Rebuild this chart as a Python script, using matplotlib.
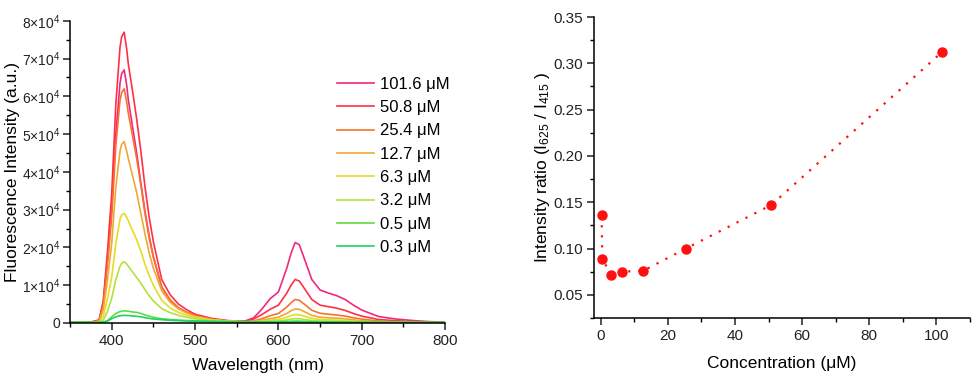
import numpy as np
import matplotlib
matplotlib.use('Agg')
import matplotlib.pyplot as plt
from matplotlib.ticker import MultipleLocator, FuncFormatter

plt.rcParams['font.family'] = ['Liberation Sans', 'DejaVu Sans']
plt.rcParams['mathtext.fontset'] = 'custom'
plt.rcParams['mathtext.rm'] = 'Liberation Sans'
plt.rcParams['mathtext.it'] = 'Liberation Sans:italic'
plt.rcParams['axes.linewidth'] = 1.1

# ---- data: emission spectra (values in units of 1e3 a.u.) ----
wavelength = [350, 375, 385, 390, 395, 400, 405, 410, 412, 415, 418, 420, 425, 430, 435, 440, 445,
              450, 460, 470, 480, 490, 500, 520, 540, 560, 570, 580, 590, 600, 610, 615,
              620, 625, 630, 640, 650, 660, 670, 680, 690, 700, 720, 740, 760, 780, 800]

i_101_6 = [0.1, 0.2, 0.7, 5.5, 17, 30, 50, 63.5, 66, 67, 63, 59, 52, 45, 37, 29.5, 23,
           17.5, 9.5, 6, 4, 2.8, 2, 1.0, 0.5, 0.5, 1.3, 3.6, 6.4, 8.2, 14.5, 18.3,
           21.3, 20.7, 17.7, 11.5, 8.7, 7.9, 7.2, 6.2, 4.7, 3.4, 1.7, 1.05, 0.65, 0.35, 0.2]
i_50_8 = [0.1, 0.2, 0.8, 6, 19, 34, 58, 73, 75.8, 77, 72.5, 68.5, 61.5, 54, 45.5, 36, 28,
          21.5, 11.5, 7.5, 5, 3.5, 2.3, 1.2, 0.6, 0.4, 1.0, 2.2, 3.6, 4.7, 7.9, 9.9,
          11.5, 11.1, 9.5, 6.2, 4.7, 4.3, 3.9, 3.3, 2.5, 1.8, 0.9, 0.6, 0.35, 0.2, 0.1]
i_25_4 = [0.1, 0.2, 0.6, 5, 15.5, 28, 47, 59, 61, 62, 58.5, 55.5, 49.5, 43.5, 36.5, 29, 22.5,
          17.5, 9.5, 6.2, 4, 2.8, 1.9, 0.9, 0.5, 0.3, 0.5, 1.1, 1.9, 2.5, 4.2, 5.3,
          6.2, 6.0, 5.15, 3.35, 2.55, 2.3, 2.1, 1.8, 1.35, 1.0, 0.5, 0.3, 0.2, 0.1, 0.05]
i_12_7 = [0.1, 0.1, 0.4, 3.5, 11.5, 21, 36, 45.5, 47.3, 48, 45.5, 43.5, 39, 34.5, 29, 23.5, 18.5,
          14.5, 8.5, 5.5, 3.7, 2.6, 1.8, 0.9, 0.5, 0.3, 0.35, 0.7, 1.1, 1.5, 2.5, 3.2,
          3.7, 3.6, 3.1, 2.0, 1.5, 1.35, 1.25, 1.05, 0.8, 0.6, 0.3, 0.2, 0.1, 0.05, 0.03]
i_6_3 = [0.05, 0.1, 0.2, 1.8, 6.5, 12, 21, 27.5, 28.6, 29, 28, 27, 24.5, 22, 19, 15.5, 12.5,
         10, 6, 4, 2.8, 2, 1.5, 0.8, 0.45, 0.3, 0.3, 0.45, 0.7, 0.9, 1.5, 1.9,
         2.2, 2.15, 1.85, 1.2, 0.9, 0.8, 0.75, 0.65, 0.5, 0.35, 0.2, 0.1, 0.07, 0.05, 0.03]
i_3_2 = [0.05, 0.05, 0.1, 0.8, 3, 6.5, 11.5, 15, 15.8, 16.2, 15.6, 15, 13.5, 12, 10.5, 8.8, 7.2,
         5.8, 3.8, 2.7, 2.0, 1.5, 1.1, 0.6, 0.35, 0.25, 0.2, 0.3, 0.4, 0.5, 0.8, 1.0,
         1.15, 1.1, 0.95, 0.65, 0.5, 0.45, 0.4, 0.35, 0.3, 0.22, 0.15, 0.1, 0.07, 0.05, 0.03]
i_0_5 = [0.1, 0.1, 0.1, 0.2, 0.6, 1.6, 2.5, 3.0, 3.1, 3.2, 3.15, 3.1, 2.9, 2.8, 2.5, 2.1, 1.8,
         1.5, 1.1, 0.9, 0.75, 0.65, 0.55, 0.45, 0.35, 0.3, 0.3, 0.3, 0.3, 0.35, 0.4, 0.45,
         0.5, 0.5, 0.45, 0.35, 0.3, 0.3, 0.28, 0.25, 0.22, 0.2, 0.18, 0.15, 0.13, 0.12, 0.1]
i_0_3 = [0.15, 0.15, 0.15, 0.2, 0.5, 1.1, 1.6, 1.9, 1.95, 2.0, 1.98, 1.95, 1.85, 1.75, 1.6, 1.4, 1.2,
         1.05, 0.85, 0.7, 0.6, 0.5, 0.45, 0.35, 0.3, 0.25, 0.25, 0.25, 0.25, 0.25, 0.27, 0.28,
         0.28, 0.27, 0.26, 0.24, 0.22, 0.2, 0.2, 0.18, 0.17, 0.16, 0.14, 0.13, 0.12, 0.11, 0.1]

spectra_labels = ['101.6 μM', '50.8 μM', '25.4 μM', '12.7 μM', '6.3 μM', '3.2 μM', '0.5 μM', '0.3 μM']
spectra = [i_101_6, i_50_8, i_25_4, i_12_7, i_6_3, i_3_2, i_0_5, i_0_3]
spectra_colors = ['#F0287E', '#FF3044', '#F9702E', '#F0A834', '#E6DC22', '#B2E23E', '#5EDC44', '#1FD064']

# ---- data: intensity ratio vs concentration ----
concentration = [0.3, 0.5, 3.2, 6.3, 12.7, 25.4, 50.8, 101.6]
ratio = [0.136, 0.089, 0.071, 0.075, 0.076, 0.100, 0.147, 0.312]

fig = plt.figure(figsize=(9.72, 3.79), dpi=100)
ax1 = fig.add_axes([0.072, 0.148, 0.386, 0.797])
ax2 = fig.add_axes([0.611, 0.161, 0.387, 0.794])

wl = np.array(wavelength)
for vals, lab, col in zip(spectra, spectra_labels, spectra_colors):
    ax1.plot(wl, np.array(vals) * 1e3, color=col, lw=1.2, label=lab)

ax1.set_xlim(350, 800)
ax1.set_ylim(0, 80000)
ax1.xaxis.set_major_locator(MultipleLocator(100))
ax1.xaxis.set_minor_locator(MultipleLocator(50))
ax1.yaxis.set_major_locator(MultipleLocator(10000))
ax1.yaxis.set_minor_locator(MultipleLocator(5000))


def sci_fmt(v, pos):
    if v == 0:
        return '0'
    return '%d×10$^{4}$' % round(v / 1e4)


ax1.yaxis.set_major_formatter(FuncFormatter(sci_fmt))
ax1.set_xlabel('Wavelength (nm)', fontsize=12.5, labelpad=7)
ax1.set_ylabel('Fluorescence Intensity (a.u.)', fontsize=12.5)
ax1.yaxis.set_label_coords(-0.133, 0.5)
ax1.legend(loc='upper left', bbox_to_anchor=(0.712, 0.815), frameon=False, fontsize=12,
           handlelength=2.2, handletextpad=0.35, labelspacing=0.5, borderaxespad=0,
           borderpad=0)

ax2.plot(concentration, ratio, linestyle=(0, (1, 3.5)), lw=1.6, color='#FF1010',
         marker='o', markersize=6.5, markerfacecolor='#FF1010', markeredgecolor='#FF1010')
ax2.set_xlim(-2, 110)
ax2.set_ylim(0.025, 0.35)
ax2.xaxis.set_major_locator(MultipleLocator(20))
ax2.xaxis.set_minor_locator(MultipleLocator(10))
ax2.yaxis.set_major_locator(MultipleLocator(0.05))
ax2.yaxis.set_minor_locator(MultipleLocator(0.025))
ax2.yaxis.set_major_formatter(FuncFormatter(lambda v, p: '%.2f' % v))
ax2.set_xlabel('Concentration (μM)', fontsize=12.5, labelpad=9)
ax2.set_ylabel('Intensity ratio (I$_{625}$ / I$_{415}$ )', fontsize=12.5)
ax2.yaxis.set_label_coords(-0.112, 0.5)

for ax in (ax1, ax2):
    ax.spines['top'].set_visible(False)
    ax.spines['right'].set_visible(False)
    ax.tick_params(which='major', direction='out', length=5, width=1.1, labelsize=11,
                   pad=3, colors='#222222')
    ax.tick_params(which='minor', direction='out', length=3, width=1.0)
ax1.tick_params(axis='y', which='major', labelsize=10, pad=2)

fig.savefig('out.png', dpi=100)
